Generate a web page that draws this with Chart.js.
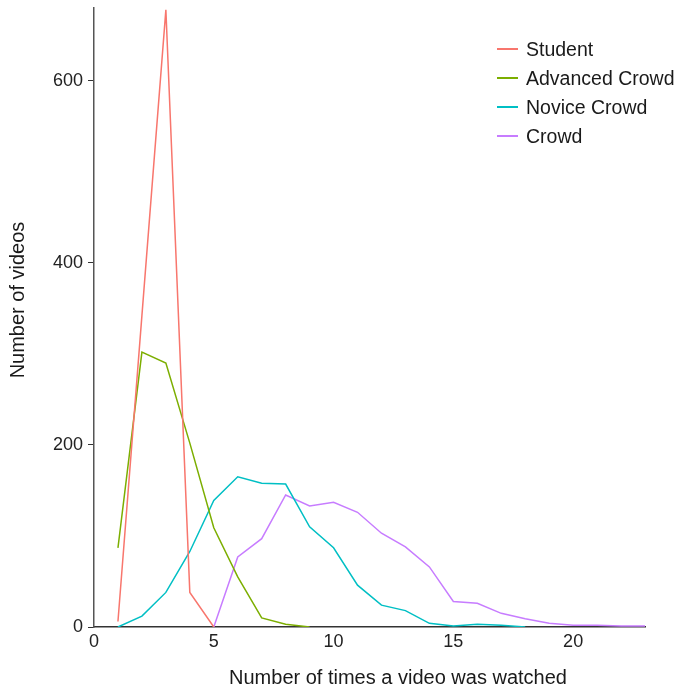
<!DOCTYPE html>
<html>
<head>
<meta charset="utf-8">
<script src="https://cdn.jsdelivr.net/npm/chart.js@4"></script>
<style>
  html, body { margin: 0; padding: 0; background: #fff; }
  #wrap { position: relative; width: 681px; height: 696px; }
  #legend { position: absolute; left: 497px; top: 34px; font-family: "Liberation Sans", Arial, sans-serif; font-size: 19.5px; color: #1a1a1a; }
  #legend div { height: 29px; line-height: 28px; white-space: nowrap; display: flex; align-items: center; }
  #legend span.sw { display: inline-block; width: 21px; height: 2px; margin-right: 8px; }
</style>
</head>
<body>
<div id="wrap">
  <canvas id="chart" width="681" height="696"></canvas>
  <div id="legend"></div>
</div>
<script>
// times watched (x)
const student_x = [1, 2, 3, 4, 5];
const student = [6, 342, 678, 38, 0];

const advanced_x = [1, 2, 3, 4, 5, 6, 7, 8, 9];
const advanced = [87, 302, 290, 202, 109, 55, 10, 3, 0];

const novice_x = [1, 2, 3, 4, 5, 6, 7, 8, 9, 10, 11, 12, 13, 14, 15, 16, 17, 18];
const novice = [0, 12, 38, 83, 139, 165, 158, 157, 110, 87, 46, 24, 18, 4, 1, 3, 2, 0];

const crowd_x = [5, 6, 7, 8, 9, 10, 11, 12, 13, 14, 15, 16, 17, 18, 19, 20, 21, 22, 23];
const crowd = [0, 77, 97, 145, 133, 137, 126, 103, 88, 66, 28, 26, 15, 9, 4, 2, 2, 1, 1];

const seriesNames = ['Student', 'Advanced Crowd', 'Novice Crowd', 'Crowd'];
const colors = ['#F8766D', '#7CAE00', '#00BFC4', '#C77CFF'];

const xTitle = 'Number of times a video was watched';
const yTitle = 'Number of videos';

function pts(xs, ys) { return xs.map((x, i) => ({ x: x, y: ys[i] })); }

const allData = [pts(student_x, student), pts(advanced_x, advanced), pts(novice_x, novice), pts(crowd_x, crowd)];

const fam = '"Liberation Sans", Arial, sans-serif';
const tickFont = { family: fam, size: 18 };

// axis titles sit a little off-centre in the original, so draw them by hand
const axisTitles = {
  id: 'axisTitles',
  afterDraw(chart) {
    const ctx = chart.ctx;
    ctx.save();
    ctx.fillStyle = '#1a1a1a';
    ctx.font = '20px ' + fam;
    ctx.textAlign = 'center';
    ctx.textBaseline = 'middle';
    ctx.fillText(xTitle, 398, 678);
    ctx.translate(18, 300);
    ctx.rotate(-Math.PI / 2);
    ctx.fillText(yTitle, 0, 0);
    ctx.restore();
  }
};

new Chart(document.getElementById('chart'), {
  type: 'line',
  data: {
    datasets: seriesNames.map((name, i) => ({
      label: name,
      data: allData[i],
      borderColor: colors[i],
      backgroundColor: colors[i],
      borderWidth: 1.5,
      pointRadius: 0,
      tension: 0,
      fill: false
    }))
  },
  options: {
    responsive: false,
    animation: false,
    layout: { padding: { top: 8, right: 36, left: 0, bottom: 0 } },
    plugins: { legend: { display: false }, tooltip: { enabled: false } },
    scales: {
      x: {
        type: 'linear',
        min: 0, max: 23,
        afterFit: s => { s.height = 69; s.paddingLeft = 0; s.paddingRight = 0; },
        border: { color: '#333', width: 1.5 },
        grid: { drawOnChartArea: false, color: 'transparent', tickLength: 4 },
        ticks: { stepSize: 5, font: tickFont, color: '#222', padding: 0, maxRotation: 0,
                 callback: v => (v % 5 === 0 ? v : '') }
      },
      y: {
        min: 0, max: 680,
        afterFit: s => { s.width = 94; s.paddingTop = 0; s.paddingBottom = 0; },
        afterBuildTicks: s => { s.ticks = [0, 200, 400, 600].map(v => ({ value: v })); },
        border: { color: '#555', width: 1.5 },
        grid: { drawOnChartArea: false, color: '#333', tickLength: 6 },
        ticks: { font: tickFont, color: '#222', padding: 5 }
      }
    }
  },
  plugins: [axisTitles]
});

const lg = document.getElementById('legend');
seriesNames.forEach((name, i) => {
  const row = document.createElement('div');
  row.innerHTML = '<span class="sw" style="background:' + colors[i] + '"></span>' + name;
  lg.appendChild(row);
});
</script>
</body>
</html>
